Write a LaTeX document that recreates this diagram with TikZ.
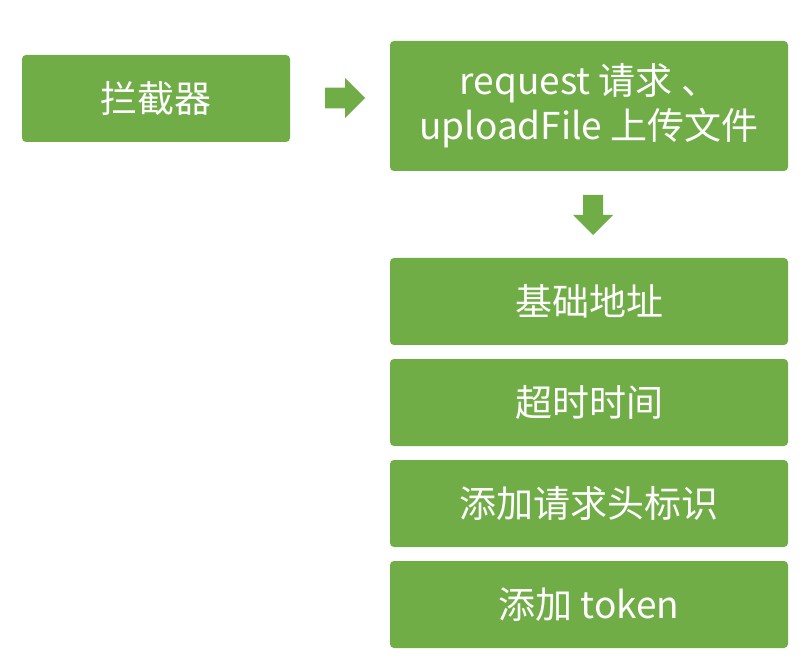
\documentclass[tikz,border=0pt]{standalone}
\usepackage{fontspec}
\setmainfont{Noto Sans CJK SC}
\definecolor{boxgreen}{HTML}{70AD47}
\begin{document}
\begin{tikzpicture}[x=1pt,y=-1pt,
  box/.style={fill=boxgreen, rounded corners=4pt, draw=none, inner sep=0pt,
              text=white, align=center, font=\fontsize{37}{45}\selectfont},
  wide/.style={box, minimum width=398pt, minimum height=87pt},
  blockarrow/.style={fill=boxgreen, draw=none}]
\useasboundingbox (0,0) rectangle (806,668);

% left box and the request box
\node[box, minimum width=268pt, minimum height=87pt] (lanjie) at (156,98.5) {拦截器};
\node[box, minimum width=398pt, minimum height=130pt] (req) at (589,106)
  {request 请求 、\\uploadFile 上传文件};

% block arrows
\coordinate (ra) at (325,98);
\fill[blockarrow] (ra) ++(0,-10.3) -- ++(20,0) -- ++(0,-9.7) -- ++(20,20)
  -- ++(-20,20) -- ++(0,-9.7) -- ++(-20,0) -- cycle;
\coordinate (da) at (593,195);
\fill[blockarrow] (da) ++(-10,0) -- ++(20,0) -- ++(0,20) -- ++(10,0) -- ++(-20,20)
  -- ++(-20,-20) -- ++(10,0) -- cycle;

% list of settings
\node[wide] (base) at (589,301.5) {基础地址};
\node[wide] (timeout) at (589,402.5) {超时时间};
\node[wide] (header) at (589,503.5) {添加请求头标识};
\node[wide] (token) at (589,604.5) {添加 token};
\end{tikzpicture}
\end{document}
